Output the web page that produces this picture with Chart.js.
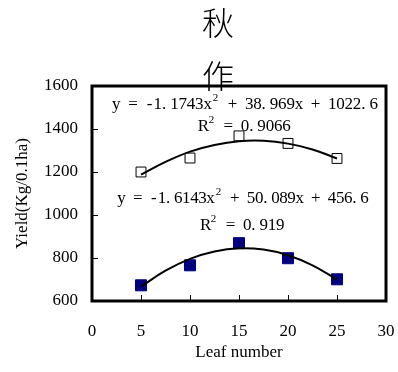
<!DOCTYPE html>
<html>
<head>
<meta charset="utf-8">
<script src="https://cdn.jsdelivr.net/npm/chart.js@4"></script>
<style>
  html, body { margin: 0; padding: 0; background: #fff; }
</style>
</head>
<body>
<canvas id="myChart" width="398" height="372"></canvas>
<script>
// measured points
var leafNumber = [5, 10, 15, 20, 25];
var yieldOpen = [1200, 1265, 1368, 1333, 1263];
var yieldFilled = [673, 766, 869, 799, 701];

// trend curves
var trendX = [5, 7.5, 10, 12.5, 15, 17.5, 20, 22.5, 25];
var trendOpen = [1188, 1247, 1295, 1326, 1343, 1345, 1332, 1305, 1263];
var trendFilled = [667, 741, 796, 830, 845, 839, 813, 766, 700];

var titleLines = ['秋', '作'];
var eqOpen = 'y = -1.1743x² + 38.969x + 1022.6';
var r2Open = 'R² = 0.9066';
var eqFilled = 'y = -1.6143x² + 50.089x + 456.6';
var r2Filled = 'R² = 0.919';

function pairs(xs, ys) {
  return xs.map(function (x, i) { return { x: x, y: ys[i] }; });
}

// half-width cell text, like the old Ming fonts
function drawMono(ctx, text, cx, cy, adv) {
  var chars = Array.from(text);
  var x0 = cx - chars.length * adv / 2;
  ctx.textBaseline = 'middle';
  chars.forEach(function (c, i) {
    var x = x0 + i * adv;
    if (c === '²') {
      ctx.textAlign = 'left';
      ctx.font = '11px "Liberation Serif"';
      ctx.fillText('2', x + 1, cy - 7);
    } else if (c === '.') {
      ctx.textAlign = 'left';
      ctx.font = '17px "Liberation Serif"';
      ctx.fillText(c, x, cy);
    } else {
      ctx.textAlign = 'center';
      ctx.font = '17px "Liberation Serif"';
      ctx.fillText(c, x + adv / 2, cy);
    }
  });
}

var framePlugin = {
  id: 'frame',
  afterDatasetsDraw: function (chart) {
    var ctx = chart.ctx, a = chart.chartArea;
    var xs = chart.scales.x, ys = chart.scales.y;
    ctx.save();
    ctx.strokeStyle = '#000';
    ctx.lineWidth = 1;
    ctx.beginPath();
    ys.ticks.forEach(function (t) {
      if (t.value > ys.min && t.value < ys.max) {
        var py = Math.round(ys.getPixelForValue(t.value)) + 0.5;
        ctx.moveTo(a.left, py);
        ctx.lineTo(a.left + 6, py);
      }
    });
    xs.ticks.forEach(function (t) {
      if (t.value > xs.min && t.value < xs.max) {
        var px = Math.round(xs.getPixelForValue(t.value)) + 0.5;
        ctx.moveTo(px, a.bottom);
        ctx.lineTo(px, a.bottom - 6);
      }
    });
    ctx.stroke();
    ctx.lineWidth = 3;
    ctx.strokeRect(a.left, a.top, a.right - a.left, a.bottom - a.top);
    ctx.restore();
  },
  afterDraw: function (chart) {
    var ctx = chart.ctx;
    ctx.save();
    ctx.fillStyle = '#000';
    ctx.font = '300 32px "Noto Sans CJK TC"';
    ctx.textAlign = 'center';
    ctx.textBaseline = 'middle';
    ctx.fillText(titleLines[0], 218, 23);
    ctx.fillText(titleLines[1], 218, 76);

    drawMono(ctx, eqOpen, 245, 105, 8.3);
    drawMono(ctx, r2Open, 245, 127, 8.3);
    drawMono(ctx, eqFilled, 243, 199, 8.1);
    drawMono(ctx, r2Filled, 243, 226, 8.3);
    ctx.restore();
  }
};

Chart.defaults.color = '#000';
Chart.defaults.font.family = '"Liberation Serif", serif';

new Chart('myChart', {
  type: 'scatter',
  data: {
    datasets: [{
      data: pairs(trendX, trendOpen),
      showLine: true,
      borderColor: '#000',
      borderWidth: 2,
      pointRadius: 0,
      tension: 0.4
    }, {
      data: pairs(trendX, trendFilled),
      showLine: true,
      borderColor: '#000',
      borderWidth: 2,
      pointRadius: 0,
      tension: 0.4
    }, {
      data: pairs(leafNumber, yieldOpen),
      pointStyle: 'rect',
      pointRadius: 7,
      backgroundColor: '#fff',
      borderColor: '#000',
      borderWidth: 1
    }, {
      data: pairs(leafNumber, yieldFilled),
      pointStyle: 'rect',
      pointRadius: 7.8,
      backgroundColor: '#000080',
      borderColor: '#000080',
      borderWidth: 1
    }]
  },
  options: {
    responsive: false,
    animation: false,
    layout: { padding: { top: 86, right: 12, bottom: 0, left: 0 } },
    plugins: {
      legend: { display: false },
      tooltip: { enabled: false }
    },
    scales: {
      x: {
        type: 'linear',
        min: 0,
        max: 30,
        grid: { display: false },
        border: { display: false },
        ticks: { stepSize: 5, padding: 12, font: { size: 17 } },
        title: { display: true, text: 'Leaf number', font: { size: 17 }, padding: { top: 0, bottom: 9 } },
        afterFit: function (scale) {
          scale.height = 71;
          scale.paddingLeft = 0;
          scale.paddingRight = 0;
        }
      },
      y: {
        min: 600,
        max: 1600,
        grid: { display: false },
        border: { display: false },
        ticks: {
          stepSize: 100,
          padding: 6,
          font: { size: 17 },
          callback: function (v) { return v % 200 === 0 ? v : ''; }
        },
        title: { display: true, text: 'Yield(Kg/0.1ha)', font: { size: 17 }, padding: { top: 12, bottom: 0 } },
        afterFit: function (scale) { scale.width = 92; }
      }
    }
  },
  plugins: [framePlugin]
});
</script>
</body>
</html>
